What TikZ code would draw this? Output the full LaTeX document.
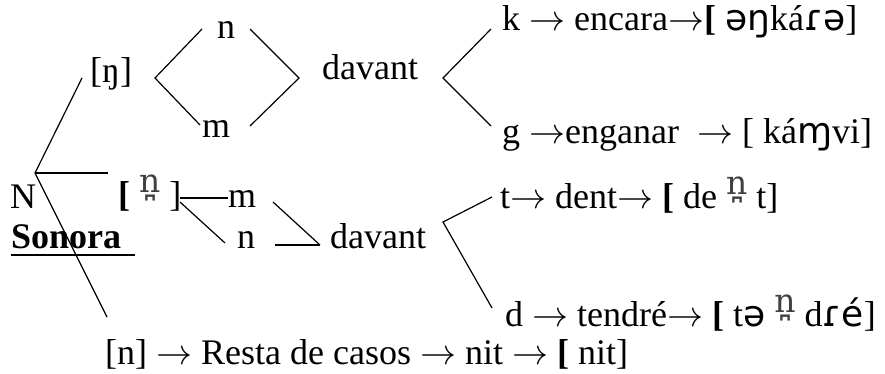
\RequirePackage{fix-cm}
\documentclass[tikz,border=0pt]{standalone}
\usepackage{fontspec}
\setmainfont{Liberation Serif}
\newfontfamily\ipasans{DejaVu Sans}
\newfontfamily\ipaserif{DejaVu Serif}
\newcommand{\dentn}{\raisebox{14pt}{\color{black!75}\ipaserif\fontsize{33}{33}\selectfont n̪}}
\newcommand{\arr}{$\rightarrow$}
\tikzset{
  lbl/.style={anchor=base west, inner sep=0pt},
  branch/.style={line width=1.2pt},
}
\begin{document}
\begin{tikzpicture}[x=1pt, y=-1pt, font=\fontsize{36}{40}\selectfont]
      \useasboundingbox (0,0) rectangle (885,373);

      % Upper branch: [ŋ] before n / m
      \node[lbl] (ngBr) at (90,82) {[ŋ]};
      \node[lbl] (nTop) at (217,38) {n};
      \node[lbl] (mTop) at (202,137) {m};
      \node[lbl] (davantA) at (322,79) {davant};
      \node[lbl] (kRow) at (502,30) {k \arr{} encara\arr\textbf{[} {\ipasans əŋ}ká{\ipasans ɾə}]};
      \node[lbl] (gRow) at (502,143) {g \arr enganar \ \arr{} [ ká{\ipasans ɱ}vi]};

      % Root
      \node[lbl] (nLetter) at (10,208) {N};
      \node[lbl] (sonora) at (11,248) {\textbf{Sonora}};
      \draw[line width=2pt] (11,255) -- (135,255);

      % Middle branch: dental n
      \node[lbl] (ndBr) at (118,206) {\textbf{[} \dentn{} ]};
      \node[lbl] (mBot) at (228,207) {m};
      \node[lbl] (nBot) at (237,248) {n};
      \node[lbl] (davantB) at (330,248) {davant};
      \node[lbl] (tRow) at (500,208) {t\arr{} dent\arr{} \textbf{[} de \dentn{} t]};
      \node[lbl] (dRow) at (505,326) {d \arr{} tendré\arr{} \textbf{[} t{\ipasans ə} \dentn{} d{\ipasans ɾé}]};

      % Lower branch: rest of cases
      \node[lbl] (restRow) at (105,364) {[n] \arr{} Resta de casos \arr{} nit \arr{} \textbf{[} nit]};

      % Tree from N
      \coordinate (root) at (35,173);
      \draw[branch] (root) -- (82,78);
      \draw[branch] (root) -- (108,173);
      \draw[branch] (root) -- (107,317);

      % Diamond round n / m
      \coordinate (dmL) at (155,78);
      \coordinate (dmR) at (299,78);
      \draw[branch] (202,29) -- (dmL) -- (200,125);
      \draw[branch] (250,29) -- (dmR) -- (250,126);

      % Brace to k / g
      \coordinate (brA) at (443,78);
      \draw[branch] (491,29) -- (brA) -- (491,126);

      % Links round m / n
      \draw[branch] (180,198) -- (228,198);
      \draw[branch] (180,202) -- (225,243);
      \draw[branch] (273,202) -- (320,245);
      \draw[branch] (275,245) -- (320,245);

      % Brace to t / d
      \coordinate (brB) at (443,222);
      \draw[branch] (492,197) -- (brB) -- (492,308);
    \end{tikzpicture}
\end{document}
